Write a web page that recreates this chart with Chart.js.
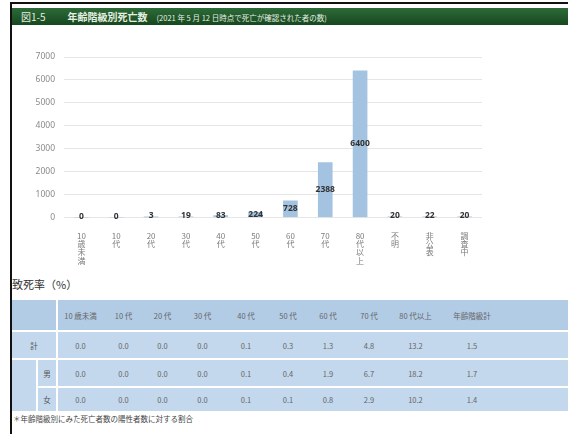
<!DOCTYPE html>
<html lang="ja">
<head>
<meta charset="utf-8">
<script src="https://cdn.jsdelivr.net/npm/chart.js@4"></script>
<style>
  html, body { margin: 0; padding: 0; background: #fff; }
  body { width: 568px; height: 434px; position: relative; overflow: hidden;
         font-family: "Noto Sans CJK JP", "Noto Sans", sans-serif; }
  #topline { position: absolute; left: 10px; top: 2px; width: 558px; height: 2px; background: #111; }
  #leftline { position: absolute; left: 10px; top: 2px; width: 2px; height: 432px; background: #111; }
  #titlebar { position: absolute; left: 12px; top: 8px; width: 556px; height: 17px;
              background: linear-gradient(#2d6b38, #17471f); color: #e6f0e2;
              font-size: 8px; line-height: 17px; white-space: nowrap; }
  #titlebar .fig { margin-left: 9px; font-size: 10px; }
  #titlebar .main { margin-left: 22px; font-weight: bold; font-size: 10px; }
  #titlebar .sub { margin-left: 9px; font-size: 7.5px; }
  #chartbox { position: absolute; left: 0; top: 40px; width: 500px; height: 235px; }
  #ratelabel { position: absolute; left: 12px; top: 276px; font-size: 11px; color: #333; }
  #rates { position: absolute; left: 12px; top: 300px; border-collapse: collapse;
           table-layout: fixed; width: 556px; font-size: 7.5px; color: #666; }
  #rates td, #rates th { padding: 0; text-align: center; font-weight: normal;
                         background: #c3d8ed; border-bottom: 2px solid #fff; white-space: nowrap; }
  #rates tr.head th { background: #b2cce6; height: 30px; }
  #rates tr.body td { height: 26px; }
  #rates tr.last td { height: 23px; border-bottom: none; }
  #rates .rowhead { border-right: 2px solid #fff; color: #555; }
  #rates .spacer { border-right: 2px solid #fff; }
  #note { position: absolute; left: 13px; top: 413px; font-size: 7.5px; color: #444; }
</style>
</head>
<body>
<div id="topline"></div>
<div id="leftline"></div>
<div id="titlebar"><span class="fig">図1-5</span><span class="main">年齢階級別死亡数</span><span class="sub">(2021 年 5 月 12 日時点で死亡が確認された者の数)</span></div>
<div id="chartbox"><canvas id="deaths"></canvas></div>
<div id="ratelabel">致死率（%）</div>
<table id="rates">
  <colgroup>
    <col style="width:25px"><col style="width:20px">
    <col style="width:46px"><col style="width:41px"><col style="width:37px"><col style="width:43px">
    <col style="width:44px"><col style="width:40px"><col style="width:40px"><col style="width:42px">
    <col style="width:51px"><col style="width:62px"><col>
  </colgroup>
  <tbody id="ratebody"></tbody>
</table>
<div id="note">＊年齢階級別にみた死亡者数の陽性者数に対する割合</div>

<script>
// bar chart data
const categories = ['10歳未満', '10代', '20代', '30代', '40代', '50代', '60代', '70代', '80代以上', '不明', '非公表', '調査中'];
const deaths = [0, 0, 3, 19, 83, 224, 728, 2388, 6400, 20, 22, 20];
const yTicks = [0, 1000, 2000, 3000, 4000, 5000, 6000, 7000];

// case fatality table data
const rateColumns = ['10 歳未満', '10 代', '20 代', '30 代', '40 代', '50 代', '60 代', '70 代', '80 代以上', '年齢階級計'];
const rateTotal = ['0.0', '0.0', '0.0', '0.0', '0.1', '0.3', '1.3', '4.8', '13.2', '1.5'];
const rateMale = ['0.0', '0.0', '0.0', '0.0', '0.1', '0.4', '1.9', '6.7', '18.2', '1.7'];
const rateFemale = ['0.0', '0.0', '0.0', '0.0', '0.1', '0.1', '0.8', '2.9', '10.2', '1.4'];

// build the table
const body = document.getElementById('ratebody');
const cells = arr => arr.map(v => `<td>${v}</td>`).join('') + '<td></td>';
body.innerHTML =
  `<tr class="head"><th colspan="2" class="rowhead"></th>${rateColumns.map(c => `<th>${c}</th>`).join('')}<th></th></tr>` +
  `<tr class="body"><td colspan="2" class="rowhead">計</td>${cells(rateTotal)}</tr>` +
  `<tr class="body"><td rowspan="2" class="spacer" style="border-bottom:none"></td><td class="rowhead">男</td>${cells(rateMale)}</tr>` +
  `<tr class="body last"><td class="rowhead">女</td>${cells(rateFemale)}</tr>`;

// vertical (stacked) category labels
const stack = s => s.match(/\d+|./g);

// value labels in the middle of each bar
const valueLabels = {
  id: 'valueLabels',
  afterDatasetsDraw(chart) {
    const { ctx } = chart;
    const meta = chart.getDatasetMeta(0);
    ctx.save();
    ctx.font = 'bold 8.5px "Noto Sans", sans-serif';
    ctx.fillStyle = '#333';
    ctx.textAlign = 'center';
    ctx.textBaseline = 'middle';
    meta.data.forEach((bar, i) => {
      const y = (bar.y + bar.base) / 2;
      ctx.fillText(String(deaths[i]), bar.x, Math.min(y, bar.base - 1));
    });
    ctx.restore();
  }
};

new Chart(document.getElementById('deaths'), {
  type: 'bar',
  data: {
    labels: categories,
    datasets: [{
      data: deaths,
      backgroundColor: '#a3c3e0',
      barThickness: 14
    }]
  },
  options: {
    responsive: true,
    maintainAspectRatio: false,
    animation: false,
    layout: { padding: { top: 17, right: 18, bottom: 4, left: 0 } },
    plugins: {
      legend: { display: false },
      tooltip: { enabled: false }
    },
    scales: {
      x: {
        grid: { display: false },
        border: { display: false },
        ticks: {
          padding: 6,
          maxRotation: 0,
          autoSkip: false,
          color: '#7a7a7a',
          font: { size: 8, family: '"Noto Sans CJK JP"', lineHeight: 1.05 },
          callback: (v, i) => stack(categories[i])
        }
      },
      y: {
        min: 0,
        max: 7000,
        afterBuildTicks: s => { s.ticks = yTicks.map(v => ({ value: v })); },
        afterFit: s => { s.width = 64; },
        grid: { color: '#e6e6e6', drawTicks: false },
        border: { display: false },
        ticks: {
          padding: 9,
          color: '#8a8a8a',
          font: { size: 8.5, family: '"Noto Sans", sans-serif' },
          callback: v => String(v)
        }
      }
    }
  },
  plugins: [valueLabels]
});
</script>
</body>
</html>
